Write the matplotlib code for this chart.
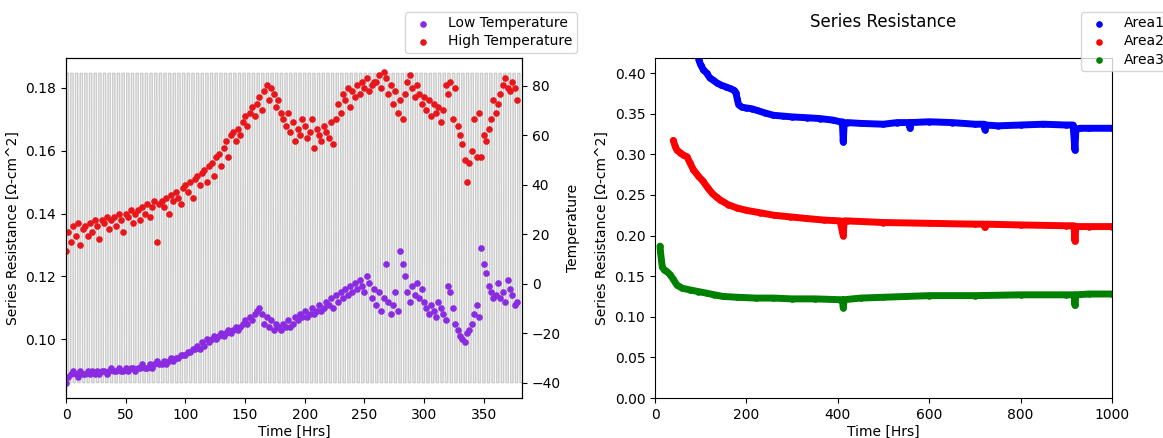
import numpy as np
import matplotlib.pyplot as plt


# ---- left panel: resistance at low / high temperature ----
hrs_2 = list(range(0, 380, 2))

high_temp_rs = [
    0.128, 0.134, 0.131, 0.136, 0.133, 0.137, 0.130, 0.135, 0.136, 0.133,
    0.137, 0.134, 0.138, 0.136, 0.132, 0.138, 0.137, 0.139, 0.135, 0.138,
    0.139, 0.136, 0.140, 0.138, 0.134, 0.140, 0.139, 0.141, 0.137, 0.140,
    0.141, 0.138, 0.142, 0.140, 0.143, 0.139, 0.142, 0.144, 0.131, 0.143,
    0.144, 0.142, 0.145, 0.140, 0.146, 0.144, 0.147, 0.145, 0.143, 0.148,
    0.149, 0.147, 0.150, 0.145, 0.151, 0.152, 0.149, 0.153, 0.154, 0.150,
    0.155, 0.156, 0.152, 0.158, 0.159, 0.155, 0.161, 0.163, 0.158, 0.165,
    0.166, 0.163, 0.167, 0.165, 0.169, 0.171, 0.168, 0.172, 0.174, 0.171,
    0.175, 0.177, 0.173, 0.179, 0.181, 0.176, 0.180, 0.178, 0.174, 0.176,
    0.172, 0.170, 0.168, 0.172, 0.166, 0.169, 0.163, 0.167, 0.165, 0.170,
    0.168, 0.164, 0.166, 0.170, 0.161, 0.167, 0.165, 0.163, 0.168, 0.166,
    0.164, 0.169, 0.162, 0.170, 0.175, 0.172, 0.178, 0.176, 0.180, 0.174,
    0.179, 0.177, 0.181, 0.178, 0.182, 0.180, 0.183, 0.179, 0.181, 0.182,
    0.182, 0.184, 0.180, 0.185, 0.183, 0.178, 0.181, 0.175, 0.179, 0.172,
    0.176, 0.170, 0.178, 0.182, 0.184, 0.180, 0.177, 0.181, 0.178, 0.175,
    0.177, 0.173, 0.176, 0.171, 0.175, 0.172, 0.174, 0.169, 0.173, 0.181,
    0.178, 0.182, 0.170, 0.180, 0.168, 0.165, 0.162, 0.157, 0.150, 0.156,
    0.160, 0.170, 0.158, 0.172, 0.158, 0.165, 0.163, 0.167, 0.170, 0.176,
    0.172, 0.175, 0.178, 0.181, 0.183, 0.180, 0.179, 0.182, 0.180, 0.176,
]

low_temp_rs = [
    0.086, 0.088, 0.089, 0.090, 0.089, 0.088, 0.090, 0.089, 0.089, 0.090,
    0.089, 0.090, 0.089, 0.090, 0.089, 0.090, 0.090, 0.089, 0.090, 0.091,
    0.090, 0.090, 0.091, 0.090, 0.090, 0.091, 0.090, 0.091, 0.091, 0.090,
    0.091, 0.091, 0.092, 0.091, 0.091, 0.092, 0.091, 0.092, 0.093, 0.092,
    0.092, 0.093, 0.092, 0.093, 0.094, 0.093, 0.094, 0.094, 0.095, 0.095,
    0.095, 0.096, 0.096, 0.097, 0.097, 0.098, 0.097, 0.099, 0.098, 0.100,
    0.099, 0.100, 0.101, 0.100, 0.101, 0.102, 0.101, 0.102, 0.103, 0.102,
    0.103, 0.104, 0.103, 0.104, 0.105, 0.106, 0.105, 0.107, 0.106, 0.108,
    0.109, 0.110, 0.108, 0.105, 0.107, 0.104, 0.106, 0.103, 0.105, 0.104,
    0.103, 0.105, 0.104, 0.106, 0.104, 0.105, 0.107, 0.106, 0.108, 0.107,
    0.109, 0.107, 0.108, 0.110, 0.108, 0.109, 0.111, 0.109, 0.110, 0.112,
    0.111, 0.113, 0.110, 0.114, 0.112, 0.115, 0.113, 0.116, 0.114, 0.117,
    0.115, 0.118, 0.116, 0.119, 0.117, 0.115, 0.120, 0.118, 0.113, 0.116,
    0.111, 0.115, 0.109, 0.113, 0.124, 0.112, 0.108, 0.111, 0.115, 0.109,
    0.128, 0.124, 0.120, 0.115, 0.112, 0.117, 0.114, 0.118, 0.113, 0.116,
    0.112, 0.110, 0.108, 0.111, 0.109, 0.107, 0.112, 0.110, 0.108, 0.106,
    0.117, 0.115, 0.110, 0.105, 0.103, 0.101, 0.100, 0.099, 0.102, 0.103,
    0.105, 0.108, 0.111, 0.107, 0.129, 0.124, 0.121, 0.117, 0.115, 0.113,
    0.114, 0.118, 0.113, 0.115, 0.112, 0.119, 0.116, 0.114, 0.111, 0.112,
]

# one thermal cycle (hours into cycle, chamber temperature), repeated
cycle_hrs = [0.0, 0.15, 1.95, 2.1, 3.9]
cycle_temp = [-40, 85, 85, -40, -40]
cycle_len = 3.9
n_cycles = 98

# ---- right panel: series resistance per area ----
area1_hrs = [92, 96, 100, 106, 113, 120, 128, 135, 145, 155, 164, 172, 177, 180, 183, 190,
             200, 212, 223, 240, 259, 280, 300, 332, 360, 390, 405, 410, 412, 414, 420, 450,
             500, 530, 556, 558, 560, 600, 650, 700, 720, 722, 724, 750, 800, 850, 900, 915,
             919, 921, 923, 930, 950, 1000]
area1_rs = [0.425, 0.416, 0.410, 0.404, 0.400, 0.394, 0.391, 0.388, 0.385, 0.383, 0.381,
            0.379, 0.376, 0.368, 0.361, 0.358, 0.357, 0.356, 0.354, 0.351, 0.348, 0.347,
            0.346, 0.345, 0.344, 0.342, 0.340, 0.340, 0.315, 0.338, 0.339, 0.338, 0.337,
            0.339, 0.339, 0.332, 0.339, 0.340, 0.339, 0.337, 0.337, 0.330, 0.336, 0.335,
            0.336, 0.337, 0.336, 0.336, 0.305, 0.330, 0.331, 0.332, 0.332, 0.332]

area2_hrs = [40, 44, 48, 55, 62, 70, 77, 84, 95, 105, 115, 125, 135, 142, 160, 179, 200,
             230, 260, 295, 330, 370, 405, 412, 414, 420, 500, 600, 700, 720, 722, 724,
             800, 900, 917, 919, 921, 950, 1000]
area2_rs = [0.317, 0.310, 0.305, 0.302, 0.299, 0.297, 0.289, 0.281, 0.273, 0.267, 0.259,
            0.252, 0.247, 0.244, 0.238, 0.234, 0.231, 0.228, 0.225, 0.223, 0.221, 0.219,
            0.218, 0.200, 0.218, 0.218, 0.216, 0.215, 0.214, 0.214, 0.210, 0.214, 0.213,
            0.212, 0.212, 0.193, 0.211, 0.211, 0.211]

area3_hrs = [11, 12, 14, 16, 20, 25, 33, 40, 48, 60, 77, 95, 113, 130, 149, 180, 220, 259,
             300, 350, 405, 410, 412, 414, 450, 500, 550, 600, 700, 800, 900, 917, 919, 921,
             950, 1000]
area3_rs = [0.187, 0.180, 0.170, 0.161, 0.158, 0.156, 0.152, 0.146, 0.139, 0.135, 0.133,
            0.131, 0.129, 0.127, 0.125, 0.124, 0.123, 0.123, 0.122, 0.122, 0.121, 0.121,
            0.111, 0.121, 0.123, 0.124, 0.125, 0.126, 0.126, 0.127, 0.127, 0.127, 0.114,
            0.127, 0.128, 0.128]


fig = plt.figure(figsize=(11.63, 4.38), dpi=100)

# left
ax = fig.add_axes([0.0568, 0.0913, 0.392, 0.7763])
ax2 = ax.twinx()
t_hrs = np.concatenate([np.array(cycle_hrs) + i * cycle_len for i in range(n_cycles)])
t_temp = np.tile(cycle_temp, n_cycles)
ax2.plot(t_hrs, t_temp, color='#c4c4c4', linewidth=1.1, alpha=0.85)
ax2.set_ylabel('Temperature')

ax.set_zorder(ax2.get_zorder() + 1)
ax.patch.set_visible(False)
ax.scatter(hrs_2, low_temp_rs, s=14, color='blueviolet', label='Low Temperature')
ax.scatter(hrs_2, high_temp_rs, s=14, color='#e8161b', label='High Temperature')
ax.set_xlim(0, 382)
ax.set_ylim(0.0813, 0.1895)
ax.set_xlabel('Time [Hrs]', labelpad=2)
ax.set_ylabel('Series Resistance [\u03a9-cm^2]')
ax.legend(loc='upper right', bbox_to_anchor=(0.4961, 0.9726), bbox_transform=fig.transFigure,
          borderaxespad=0, labelspacing=0.3, borderpad=0.3)

# right
bx = fig.add_axes([0.5632, 0.0913, 0.3929, 0.7763])
for h, r, c, lab in [(area1_hrs, area1_rs, 'blue', 'Area1'),
                     (area2_hrs, area2_rs, 'red', 'Area2'),
                     (area3_hrs, area3_rs, 'green', 'Area3')]:
    bx.plot(h, r, color=c, linewidth=5, solid_capstyle='round', solid_joinstyle='round')
    bx.scatter(h, r, s=14, color=c, label=lab)
bx.set_xlim(0, 1000)
bx.set_ylim(0, 0.4185)
bx.set_title('Series Resistance', pad=22)
bx.set_xlabel('Time [Hrs]', labelpad=2)
bx.set_ylabel('Series Resistance [\u03a9-cm^2]')
bx.legend(loc='upper left', bbox_to_anchor=(0.9295, 0.9726), bbox_transform=fig.transFigure,
          borderaxespad=0, labelspacing=0.3, borderpad=0.3)

plt.savefig('out.png', dpi=100)
plt.close()
